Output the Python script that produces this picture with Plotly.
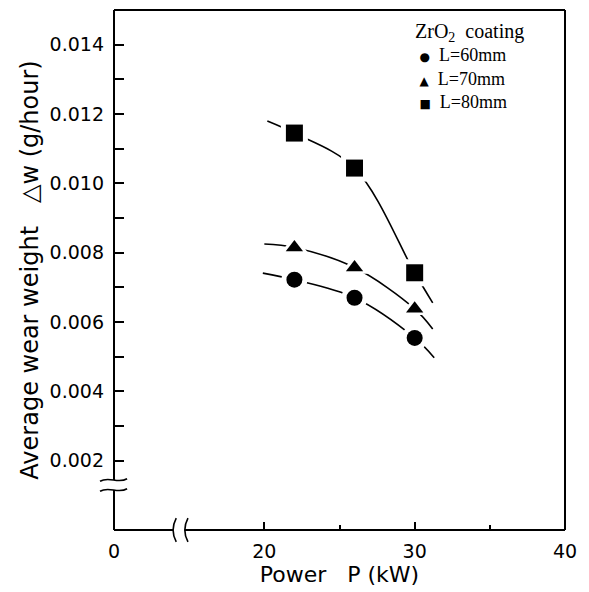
import plotly.graph_objects as go

# ---- data ----
power_kw = [22, 26, 30]
wear_60 = [0.00722, 0.00670, 0.00554]
wear_70 = [0.00815, 0.00757, 0.00638]
wear_80 = [0.01145, 0.01044, 0.00742]

# hand-drawn fitted curves
curve_power_60 = [19.9, 22, 26, 30, 31.3]
curve_wear_60 = [0.00741, 0.00722, 0.00670, 0.00554, 0.00497]
curve_power_70 = [20.0, 22, 26, 30, 31.2]
curve_wear_70 = [0.00825, 0.00815, 0.00757, 0.00638, 0.00580]
curve_power_80 = [20.2, 22, 26, 30, 31.2]
curve_wear_80 = [0.0118, 0.01145, 0.01044, 0.00742, 0.00655]

series_names = ["L=60mm", "L=70mm", "L=80mm"]
legend_title = "ZrO<sub>2</sub>  coating"
legend_symbols = ["●", "▲", "■"]

x_tickvals = [10, 20, 30, 40]
x_ticktext = ["0", "20", "30", "40"]
x_minor_vals = [25, 35]
y_tickvals = [0.002, 0.004, 0.006, 0.008, 0.010, 0.012, 0.014]
y_minor_vals = [0.003, 0.005, 0.007, 0.009, 0.011, 0.013]

x_title = "Power   P (kW)"
y_title = "Average wear weight   △w (g/hour)"

# ---- figure ----
fig = go.Figure()

points = [wear_60, wear_70, wear_80]
curves = [(curve_power_60, curve_wear_60), (curve_power_70, curve_wear_70),
          (curve_power_80, curve_wear_80)]
symbols = ["circle", "triangle-up", "square"]
sizes = [16, 15, 17]

for cx, cy in curves:
    fig.add_trace(go.Scatter(x=cx, y=cy, mode="lines",
                             line=dict(color="black", width=1.6, shape="spline", smoothing=1.0),
                             showlegend=False, hoverinfo="skip"))

# white halos to create gaps in the curves around markers
for ys, sym, sz in zip(points, symbols, sizes):
    fig.add_trace(go.Scatter(x=power_kw, y=ys, mode="markers",
                             marker=dict(symbol=sym, size=sz + 10, color="white"),
                             showlegend=False, hoverinfo="skip"))

for ys, sym, sz, name in zip(points, symbols, sizes, series_names):
    fig.add_trace(go.Scatter(x=power_kw, y=ys, mode="markers", name=name,
                             marker=dict(symbol=sym, size=sz, color="black"),
                             showlegend=False))

# ---- frame with axis breaks (paper coordinates) ----
yb_hi, yb_lo = 0.0962, 0.0769   # y-axis break
xb_lo, xb_hi = 0.131, 0.157     # x-axis break
lw = 2
line = dict(color="black", width=lw)
shapes = [
    dict(type="line", xref="paper", yref="paper", x0=0, x1=1, y0=1, y1=1, line=line),
    dict(type="line", xref="paper", yref="paper", x0=1, x1=1, y0=0, y1=1, line=line),
    dict(type="line", xref="paper", yref="paper", x0=0, x1=0, y0=0, y1=yb_lo, line=line),
    dict(type="line", xref="paper", yref="paper", x0=0, x1=0, y0=yb_hi, y1=1, line=line),
    dict(type="line", xref="paper", yref="paper", x0=0, x1=xb_lo, y0=0, y1=0, line=line),
    dict(type="line", xref="paper", yref="paper", x0=xb_hi, x1=1, y0=0, y1=0, line=line),
]
# wavy break marks on y axis
wx0, wx1 = -0.031, 0.029
amp = 0.008
for yy in (yb_hi, yb_lo):
    w = wx1 - wx0
    path = (f"M {wx0},{yy - amp*0.3} C {wx0 + w/3},{yy + amp} "
            f"{wx0 + 2*w/3},{yy - amp} {wx1},{yy + amp*0.3}")
    shapes.append(dict(type="path", xref="paper", yref="paper", path=path,
                       line=dict(color="black", width=1.6)))
# bracket marks on x axis
dx = 0.007
for xx in (xb_lo, xb_hi):
    path = f"M {xx + dx},0.023 Q {xx - dx},0 {xx + dx},-0.023"
    shapes.append(dict(type="path", xref="paper", yref="paper", path=path,
                       line=dict(color="black", width=1.6)))

# ---- legend as one multi-line annotation ----
lines = [f"<span style='font-size:20px'>{legend_title}</span>"]
for name, sym in zip(series_names, legend_symbols):
    lines.append(f" <span style='font-family:DejaVu Sans;font-size:12px'>{sym}</span>  {name}")
legend_text = "<br>".join(lines)

annotations = [
    dict(xref="paper", yref="paper", x=0.663, y=0.985, xanchor="left", yanchor="top",
         text=legend_text, showarrow=False, align="left",
         font=dict(family="Liberation Serif", size=18, color="black")),
]

fig.update_layout(
    template="none",
    width=581, height=584,
    margin=dict(l=106, r=24, t=2, b=62),
    paper_bgcolor="white", plot_bgcolor="white",
    shapes=shapes, annotations=annotations,
    showlegend=False,
    font=dict(family="DejaVu Sans", color="black"),
)
fig.update_xaxes(
    range=[10, 40], showgrid=False, zeroline=False, showline=False,
    tickmode="array", tickvals=x_tickvals, ticktext=x_ticktext,
    ticks="inside", ticklen=8, tickwidth=1.5, tickcolor="black",
    minor=dict(tickmode="array", tickvals=x_minor_vals, ticks="inside", ticklen=5,
               tickwidth=1.5, tickcolor="black"),
    tickfont=dict(family="DejaVu Sans", size=19, color="black"),
    ticklabelstandoff=8,
    title=dict(text=x_title, font=dict(family="DejaVu Sans", size=22, color="black"),
               standoff=4),
)
fig.update_yaxes(
    range=[0, 0.015], showgrid=False, zeroline=False, showline=False,
    tickmode="array", tickvals=y_tickvals, tickformat=".3f",
    ticks="inside", ticklen=10, tickwidth=1.5, tickcolor="black",
    minor=dict(tickmode="array", tickvals=y_minor_vals, ticks="inside", ticklen=10,
               tickwidth=1.5, tickcolor="black"),
    tickfont=dict(family="DejaVu Sans", size=19, color="black"),
    ticklabelstandoff=9,
    title=dict(text=y_title, font=dict(family="DejaVu Sans", size=24, color="black"),
               standoff=4),
)

fig.write_html("out.html")
